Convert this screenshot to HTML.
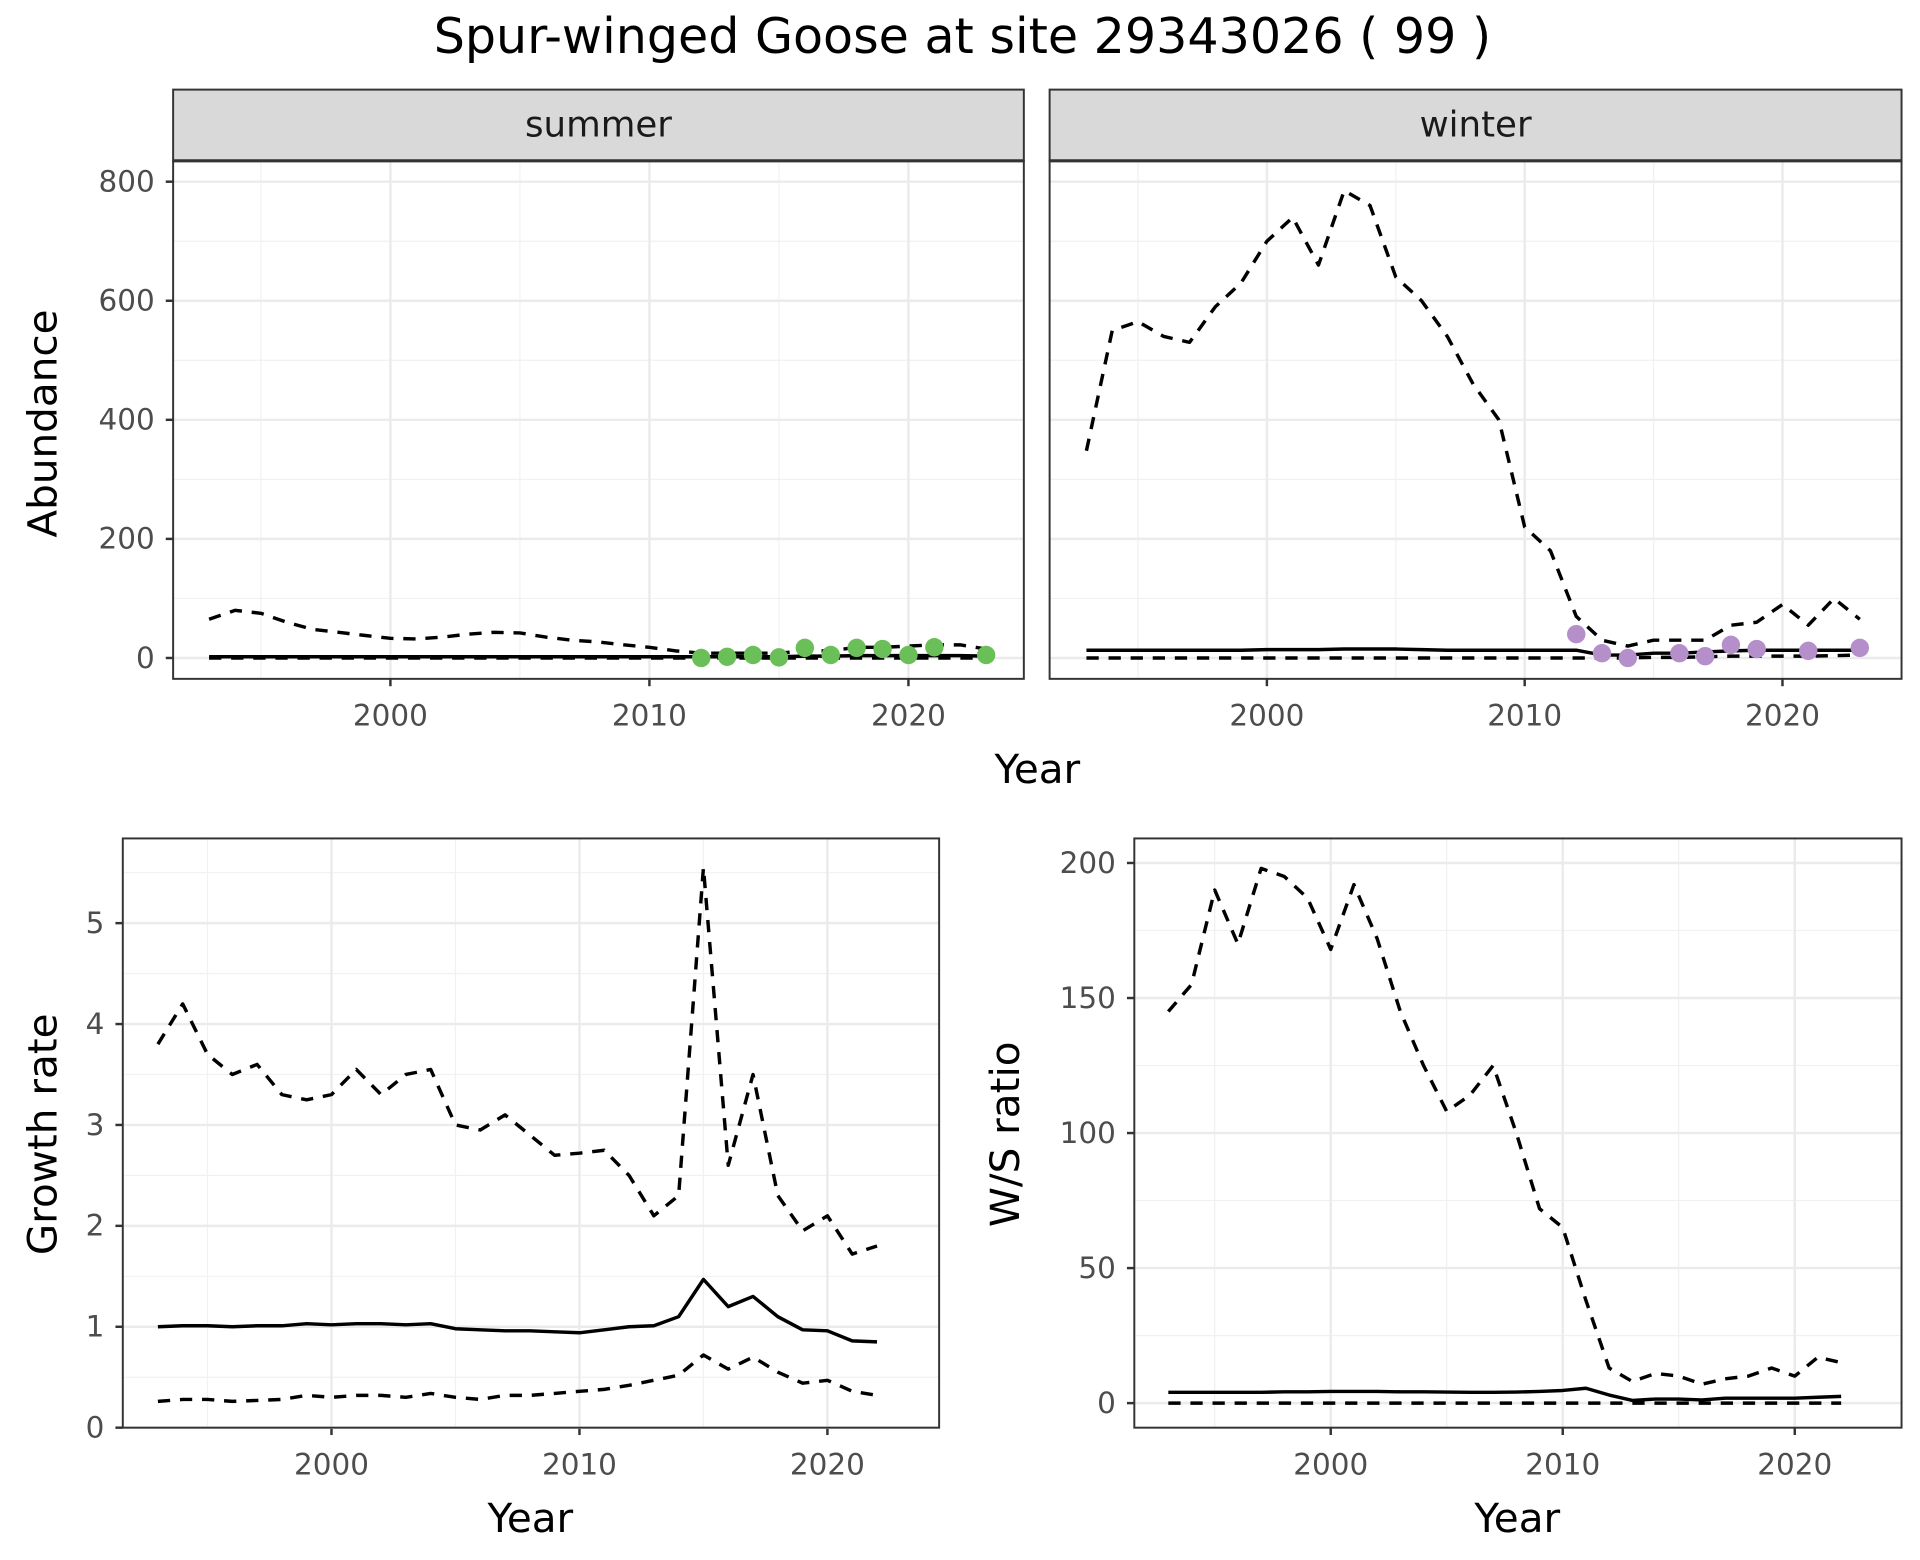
<!DOCTYPE html>
<html><head><meta charset="utf-8"><style>
html,body{margin:0;padding:0;background:#fff;}
svg{display:block;font-family:"DejaVu Sans","Liberation Sans",sans-serif;}
</style></head><body>
<svg id="chart" width="1920" height="1560" viewBox="0 0 1564 1270.8" xmlns="http://www.w3.org/2000/svg">
<text x="784" y="43" text-anchor="middle" font-size="40" fill="#000">Spur-winged Goose at site 29343026 ( 99 )</text>
</svg>
<script>
const yearsAll = [1993,1994,1995,1996,1997,1998,1999,2000,2001,2002,2003,2004,2005,2006,2007,2008,2009,2010,2011,2012,2013,2014,2015,2016,2017,2018,2019,2020,2021,2022,2023];
const summerUpper = [65,80,75,60,48,43,38,33,32,35,40,43,42,35,30,27,22,18,12,8,8,8,8,12,12,18,18,20,22,22,15];
const summerMid = [2,2,2,2,2,2,2,2,2,2,2,2,2,2,2,2,2,2,2,2,2,2,2,3,3,4,4,4,4,4,3];
const summerLower = [0,0,0,0,0,0,0,0,0,0,0,0,0,0,0,0,0,0,0,0,0,0,0,0,0,0,0,0,0,0,0];
const summerObsYears = [2012,2013,2014,2015,2016,2017,2018,2019,2020,2021,2023];
const summerObs = [0,2,5,1,17,5,17,15,5,18,5];
const winterUpper = [348,550,565,540,530,590,630,700,740,660,785,760,640,600,540,460,400,220,180,70,30,20,30,30,30,55,60,90,55,100,65];
const winterMid = [13,13,13,13,13,13,13,14,14,14,15,15,15,14,13,13,13,13,13,13,5,5,8,8,10,12,13,13,13,13,13];
const winterLower = [0,0,0,0,0,0,0,0,0,0,0,0,0,0,0,0,0,0,0,0,0,0,1,1,2,3,3,3,3,4,5];
const winterObsYears = [2012,2013,2014,2016,2017,2018,2019,2021,2023];
const winterObs = [40,8,0,8,3,22,15,12,17];
const gYears = [1993,1994,1995,1996,1997,1998,1999,2000,2001,2002,2003,2004,2005,2006,2007,2008,2009,2010,2011,2012,2013,2014,2015,2016,2017,2018,2019,2020,2021,2022];
const growthUpper = [3.8,4.2,3.7,3.5,3.6,3.3,3.25,3.3,3.55,3.3,3.5,3.55,3.0,2.95,3.1,2.9,2.7,2.72,2.75,2.5,2.1,2.3,5.55,2.6,3.5,2.3,1.95,2.1,1.72,1.8];
const growthMid = [1,1.01,1.01,1,1.01,1.01,1.03,1.02,1.03,1.03,1.02,1.03,0.98,0.97,0.96,0.96,0.95,0.94,0.97,1,1.01,1.1,1.47,1.2,1.3,1.1,0.97,0.96,0.86,0.85];
const growthLower = [0.26,0.28,0.28,0.26,0.27,0.28,0.32,0.3,0.32,0.32,0.3,0.34,0.3,0.28,0.32,0.32,0.34,0.36,0.38,0.42,0.47,0.52,0.72,0.58,0.7,0.55,0.44,0.47,0.36,0.32];
const wsUpper = [145,155,190,170,198,195,187,168,192,172,145,125,108,114,125,100,72,65,38,13,8,11,10,7,9,10,13,10,17,15];
const wsMid = [4,4,4,4,4,4.2,4.2,4.3,4.3,4.3,4.2,4.2,4.1,4,4,4.1,4.3,4.7,5.5,3,1,1.5,1.5,1.2,1.8,1.8,1.8,1.8,2.2,2.5];
const wsLower = [0,0,0,0,0,0,0,0,0,0,0,0,0,0,0,0,0,0,0,0,0,0,0,0,0,0,0,0,0,0];
const abundTicks = [0,200,400,600,800];
const growthTicks = [0,1,2,3,4,5];
const wsTicks = [0,50,100,150,200];
const yearTicks = [2000,2010,2020];

const NS='http://www.w3.org/2000/svg';
const svg=document.getElementById('chart');
function el(tag,attrs,parent){const e=document.createElementNS(NS,tag);for(const k in attrs)e.setAttribute(k,attrs[k]);(parent||svg).appendChild(e);return e;}
function lin(d0,d1,r0,r1){return v=>r0+(v-d0)*(r1-r0)/(d1-d0);}
const TF=24;
function panel(o){
  const g=el('g',{});
  
  
  const x=lin(2000,2010,o.x2000,o.x2010), y=lin(o.t0,o.t1,o.y0,o.y1);
  el('rect',{x:o.L,y:o.T,width:o.R-o.L,height:o.B-o.T,fill:'#fff'},g);
  for(let yr=1995;yr<=2025;yr+=10){const px=x(yr);if(px>o.L&&px<o.R)el('line',{x1:px,x2:px,y1:o.T,y2:o.B,stroke:'#f1f1f1','stroke-width':1},g);}
  for(let i=0;i<o.ticks.length-1;i++){const py=y((o.ticks[i]+o.ticks[i+1])/2);el('line',{x1:o.L,x2:o.R,y1:py,y2:py,stroke:'#f1f1f1','stroke-width':1},g);}
  if(o.ticks.length){const st=o.ticks[1]-o.ticks[0];const py=y(o.ticks[o.ticks.length-1]+st/2);if(py>o.T)el('line',{x1:o.L,x2:o.R,y1:py,y2:py,stroke:'#f1f1f1','stroke-width':1},g);}
  yearTicks.forEach(yr=>{const px=x(yr);el('line',{x1:px,x2:px,y1:o.T,y2:o.B,stroke:'#ebebeb','stroke-width':2},g);
    el('line',{x1:px,x2:px,y1:o.B,y2:o.B+6,stroke:'#333','stroke-width':2},g);
    const t=el('text',{x:px,y:o.B+38,'text-anchor':'middle','font-size':TF,fill:'#4d4d4d'},g);t.textContent=yr;
    
    });
  o.ticks.forEach(v=>{const py=y(v);el('line',{x1:o.L,x2:o.R,y1:py,y2:py,stroke:'#ebebeb','stroke-width':2},g);
    if(o.showY){el('line',{x1:o.L-6,x2:o.L,y1:py,y2:py,stroke:'#333','stroke-width':2},g);
    const t=el('text',{x:o.L-15,y:py+8,'text-anchor':'end','font-size':TF,fill:'#4d4d4d'},g);t.textContent=v;
    
    }});
  const series=[[o.upper,'10,8','upper-bound-line'],[o.lower,'10,8','lower-bound-line'],[o.mid,null,'trend-line']];
  series.forEach(([arr,dash,nm])=>{const pts=arr.map((v,i)=>x(o.years[i]).toFixed(1)+','+y(v).toFixed(1)).join(' ');
    const a={points:pts,fill:'none',stroke:'#000','stroke-width':2.8,'stroke-linejoin':'round'};if(dash)a['stroke-dasharray']=dash;
    const p=el('polyline',a,g);});
  if(o.obs){o.obs.forEach((v,i)=>{const c=el('circle',{cx:x(o.obsYears[i]),cy:y(v),r:7.5,fill:o.color},g);
    
    });}
  el('rect',{x:o.L,y:o.T,width:o.R-o.L,height:o.B-o.T,fill:'none',stroke:'#333','stroke-width':1.6},g);
  if(o.strip){const s=el('rect',{x:o.L,y:o.T-58,width:o.R-o.L,height:58,fill:'#d9d9d9',stroke:'#333','stroke-width':1.6},g);
    
    
    el('line',{x1:o.L,x2:o.R,y1:o.T,y2:o.T,stroke:'#333','stroke-width':2.5},g);
    const t=el('text',{x:(o.L+o.R)/2,y:o.T-20,'text-anchor':'middle','font-size':29,fill:'#1a1a1a'},g);t.textContent=o.strip;
    
    }
}
panel({name:'summer-panel',L:141,R:834,T:131,B:553,x2000:318,x2010:529,t0:0,t1:800,y0:536,y1:148,ticks:abundTicks,showY:true,years:yearsAll,upper:summerUpper,mid:summerMid,lower:summerLower,obs:summerObs,obsYears:summerObsYears,color:'#6abf59',strip:'summer'});
panel({name:'winter-panel',L:855,R:1549,T:131,B:553,x2000:1032,x2010:1242,t0:0,t1:800,y0:536,y1:148,ticks:abundTicks,showY:false,years:yearsAll,upper:winterUpper,mid:winterMid,lower:winterLower,obs:winterObs,obsYears:winterObsYears,color:'#b48fc9',strip:'winter'});
panel({name:'growth-panel',L:100,R:765,T:683,B:1163,x2000:270,x2010:472,t0:0,t1:5,y0:1163,y1:752,ticks:growthTicks,showY:true,years:gYears,upper:growthUpper,mid:growthMid,lower:growthLower});
panel({name:'ws-ratio-panel',L:924,R:1549,T:683,B:1163,x2000:1084,x2010:1273,t0:0,t1:200,y0:1143,y1:703,ticks:wsTicks,showY:true,years:gYears,upper:wsUpper,mid:wsMid,lower:wsLower});

function label(txt,x,y,rot,nm){const t=el('text',{x:x,y:y,'text-anchor':'middle','font-size':33,fill:'#000'});
  if(rot)t.setAttribute('transform','rotate(-90 '+x+' '+y+')');t.textContent=txt;
  
  }
label('Year',845,638,false,'x-axis-title-top');
label('Abundance',46,345,true,'y-axis-title-abundance');
label('Year',432,1248,false,'x-axis-title-growth');
label('Growth rate',46,924,true,'y-axis-title-growth');
label('Year',1236,1248,false,'x-axis-title-ws');
label('W/S ratio',830,924,true,'y-axis-title-ws');
</script>
</body></html>
